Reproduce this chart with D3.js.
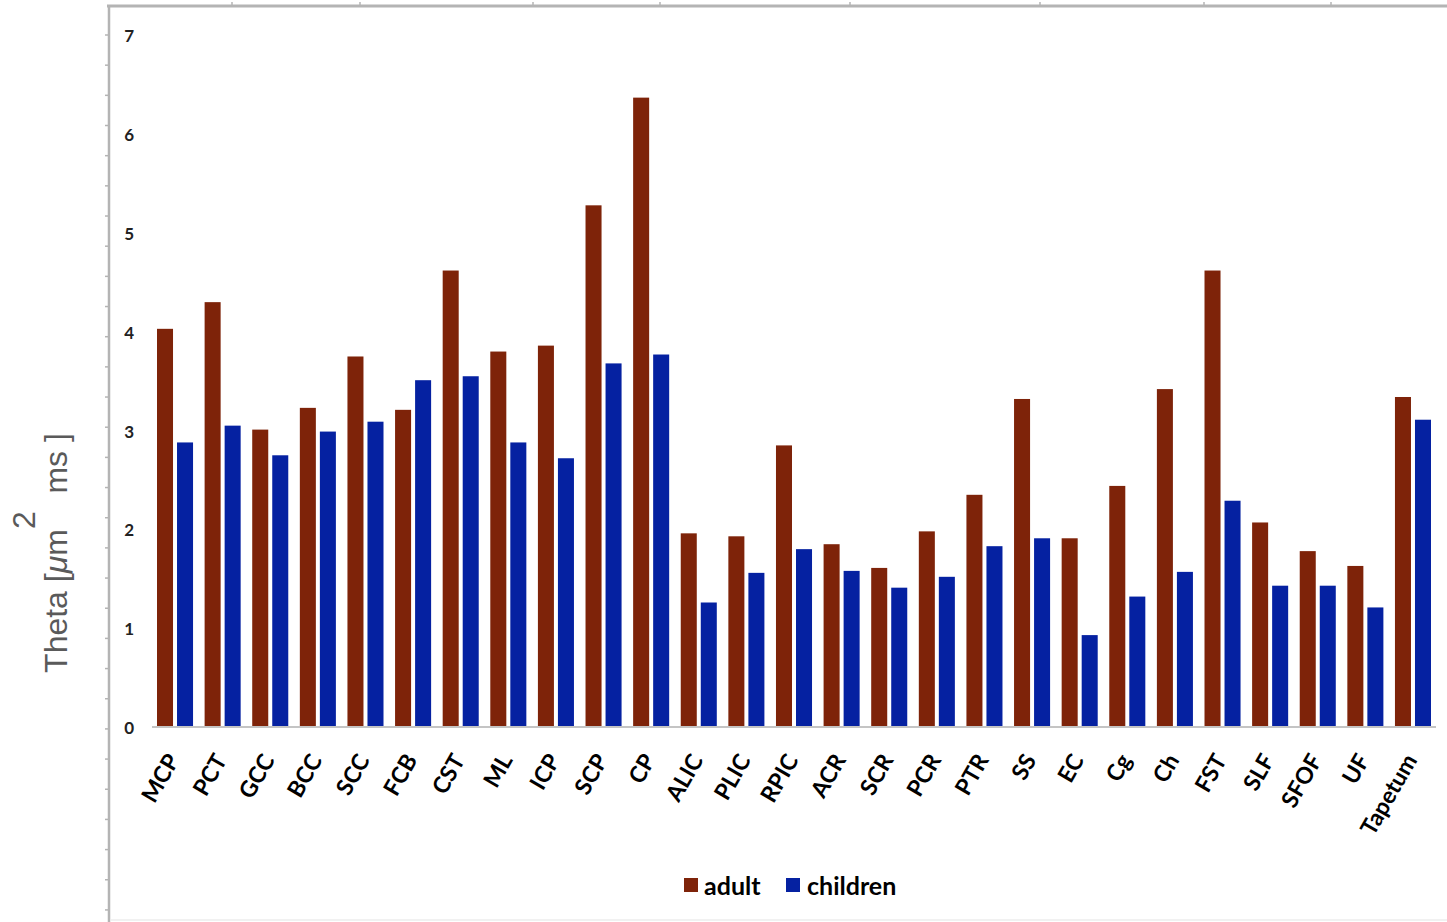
<!DOCTYPE html>
<html>
<head>
<meta charset="utf-8">
<script src="https://cdn.jsdelivr.net/npm/d3@7"></script>
<style>
  html, body { margin: 0; padding: 0; background: #fff; }
  svg { display: block; }
</style>
</head>
<body>
<svg id="chart" width="1447" height="922"></svg>
<script>
// Tract names along the x axis
const categories = ["MCP", "PCT", "GCC", "BCC", "SCC", "FCB", "CST", "ML", "ICP", "SCP", "CP",
  "ALIC", "PLIC", "RPIC", "ACR", "SCR", "PCR", "PTR", "SS", "EC", "Cg", "Ch", "FST", "SLF",
  "SFOF", "UF", "Tapetum"];

// Theta values per tract
const adult = [4.02, 4.29, 3.00, 3.22, 3.74, 3.20, 4.61, 3.79, 3.85, 5.27, 6.36,
  1.95, 1.92, 2.84, 1.84, 1.60, 1.97, 2.34, 3.31, 1.90, 2.43, 3.41, 4.61, 2.06,
  1.77, 1.62, 3.33];
const children = [2.87, 3.04, 2.74, 2.98, 3.08, 3.50, 3.54, 2.87, 2.71, 3.67, 3.76,
  1.25, 1.55, 1.79, 1.57, 1.40, 1.51, 1.82, 1.90, 0.92, 1.31, 1.56, 2.28, 1.42,
  1.42, 1.20, 3.10];

const seriesNames = ["adult", "children"];
const yTicks = [0, 1, 2, 3, 4, 5, 6, 7];
const colors = { adult: "#7e2309", children: "#0521a1" };

const svg = d3.select("#chart");

// Outer frame with small tick marks
const frameColor = "#b4b4b4";
svg.append("line").attr("x1", 107).attr("x2", 1447).attr("y1", 6).attr("y2", 6)
  .attr("stroke", frameColor).attr("stroke-width", 3);
svg.append("line").attr("x1", 109).attr("x2", 109).attr("y1", 5).attr("y2", 922)
  .attr("stroke", frameColor).attr("stroke-width", 2.5);
svg.append("line").attr("x1", 110).attr("x2", 1447).attr("y1", 920).attr("y2", 920)
  .attr("stroke", "#ececec").attr("stroke-width", 1.5);

const frameTicksY = d3.range(35, 922, 30.17);
svg.append("g").selectAll("line").data(frameTicksY).join("line")
  .attr("x1", 105).attr("x2", 109).attr("y1", d => d).attr("y2", d => d)
  .attr("stroke", frameColor).attr("stroke-width", 1.5);
const frameTicksX = [232, 360, 533, 660, 850, 1040, 1204, 1331];
svg.append("g").selectAll("line").data(frameTicksX).join("line")
  .attr("x1", d => d).attr("x2", d => d).attr("y1", 2).attr("y2", 6)
  .attr("stroke", frameColor).attr("stroke-width", 1.5);

// Scales
const x0 = d3.scaleBand().domain(categories).range([152, 1436])
  .paddingInner(0.243).paddingOuter(0.105);
const x1 = d3.scaleBand().domain(seriesNames).range([0, x0.bandwidth()]).paddingInner(0.2);
const y = d3.scaleLinear().domain([0, 7]).range([726, 34.4]);

// Y axis labels (no axis line)
const yAxis = svg.append("g").attr("transform", "translate(134,2)")
  .call(d3.axisLeft(y).tickValues(yTicks).tickSize(0).tickPadding(0).tickFormat(d3.format("d")));
yAxis.select(".domain").remove();
yAxis.selectAll("text").attr("font-family", "Lato, sans-serif").attr("font-size", 17)
  .attr("font-weight", "bold").attr("fill", "#222");

// Bars
const rows = categories.map((c, i) => ({ cat: c, adult: adult[i], children: children[i] }));
svg.append("g").selectAll("g").data(rows).join("g")
  .attr("transform", d => `translate(${x0(d.cat)},0)`)
  .selectAll("rect")
  .data(d => seriesNames.map(k => ({ key: k, value: d[k] })))
  .join("rect")
  .attr("x", d => x1(d.key))
  .attr("width", x1.bandwidth())
  .attr("y", d => y(d.value))
  .attr("height", d => y(0) - y(d.value))
  .attr("fill", d => colors[d.key]);

// Baseline
svg.append("line").attr("x1", 152).attr("x2", 1436).attr("y1", y(0) + 1).attr("y2", y(0) + 1)
  .attr("stroke", "#c4c4c4").attr("stroke-width", 2);

// Category labels, rotated
svg.append("g").selectAll("text").data(categories).join("text")
  .attr("transform", d => `translate(${x0(d) + x0.bandwidth() / 2 + 5},760) rotate(-60)`)
  .attr("text-anchor", "end")
  .attr("font-family", "Lato, sans-serif")
  .attr("font-weight", "bold")
  .attr("font-size", 23)
  .attr("fill", "#000")
  .text(d => d);

// Y axis title
const title = svg.append("text")
  .attr("transform", "translate(67,553) rotate(-90)")
  .attr("text-anchor", "middle")
  .attr("font-family", "'Liberation Sans', Arial, sans-serif")
  .attr("font-size", 32)
  .attr("fill", "#5a5a5a");
title.append("tspan").text("Theta [");
title.append("tspan").attr("font-style", "italic").text("\u03bc");
title.append("tspan").text("m");
title.append("tspan").attr("dy", -32).text("2");
title.append("tspan").attr("dy", 32).text("\u00a0 ms ]");

// Legend
const legend = svg.append("g").attr("font-family", "Lato, sans-serif")
  .attr("font-weight", "bold").attr("font-size", 25);
const legendItems = [
  { key: "adult", sx: 684, tx: 704 },
  { key: "children", sx: 786, tx: 807 }
];
legendItems.forEach(it => {
  legend.append("rect").attr("x", it.sx).attr("y", 878).attr("width", 14).attr("height", 14)
    .attr("fill", colors[it.key]);
  legend.append("text").attr("x", it.tx).attr("y", 895).attr("fill", "#000").text(it.key);
});
</script>
</body>
</html>
